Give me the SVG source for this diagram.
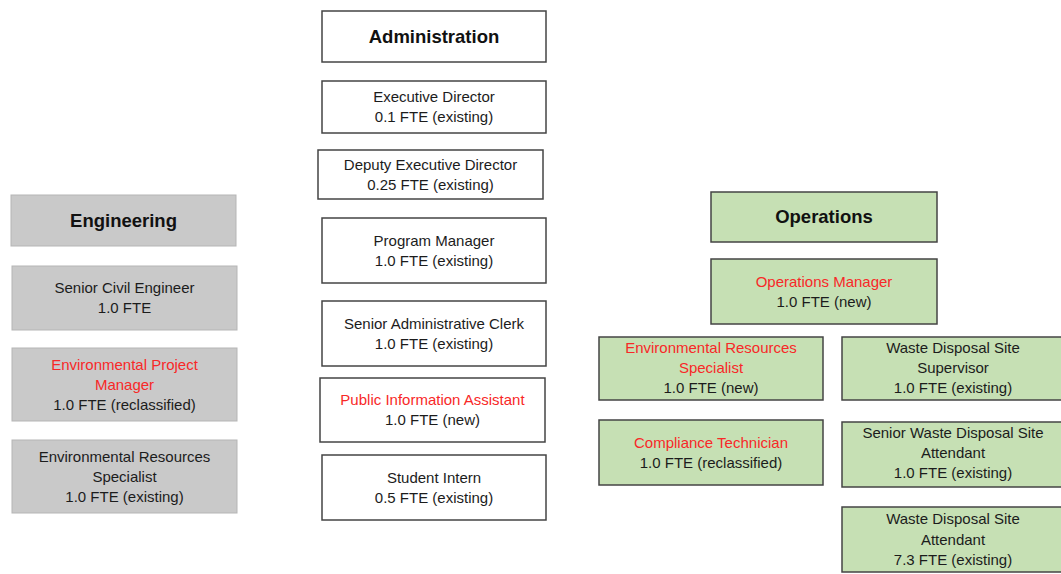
<svg xmlns="http://www.w3.org/2000/svg" width="1061" height="574" viewBox="0 0 1061 574">
<style>
text{font-family:"Liberation Sans",Arial,sans-serif;font-size:15px;fill:#1c1c1c;text-anchor:middle}
.h{font-size:18.5px;font-weight:bold;fill:#111}
.r{fill:#f82828}
.eng{fill:#c9c9c9;stroke:#b5b5b5;stroke-width:1}
.adm{fill:#fff;stroke:#444;stroke-width:1.5}
.ops{fill:#c6e0b4;stroke:#444;stroke-width:1.5}
</style>
<rect width="1061" height="574" fill="#fff"/>
<g id="connectors"/>
<g id="engineering">
<rect class="eng" x="11" y="195" width="225" height="51"/>
<text class="h" x="123.5" y="227">Engineering</text>
</g>
<g id="senior-civil-engineer">
<rect class="eng" x="12" y="266" width="225" height="64"/>
<text x="124.5" y="293">Senior Civil Engineer</text>
<text x="124.5" y="313">1.0 FTE</text>
</g>
<g id="environmental-project-manager">
<rect class="eng" x="12" y="348" width="225" height="73"/>
<text class="r" x="124.5" y="370">Environmental Project</text>
<text class="r" x="124.5" y="390">Manager</text>
<text x="124.5" y="410">1.0 FTE (reclassified)</text>
</g>
<g id="eng-environmental-resources-specialist">
<rect class="eng" x="12" y="440" width="225" height="73"/>
<text x="124.5" y="461.5">Environmental Resources</text>
<text x="124.5" y="481.5">Specialist</text>
<text x="124.5" y="501.5">1.0 FTE (existing)</text>
</g>
<g id="administration">
<rect class="adm" x="322" y="11" width="224" height="51"/>
<text class="h" x="434" y="42.5">Administration</text>
</g>
<g id="executive-director">
<rect class="adm" x="322" y="81" width="224" height="52"/>
<text x="434" y="102">Executive Director</text>
<text x="434" y="122">0.1 FTE (existing)</text>
</g>
<g id="deputy-executive-director">
<rect class="adm" x="318" y="150" width="225" height="49"/>
<text x="430.5" y="170">Deputy Executive Director</text>
<text x="430.5" y="190">0.25 FTE (existing)</text>
</g>
<g id="program-manager">
<rect class="adm" x="322" y="218" width="224" height="65"/>
<text x="434" y="245.5">Program Manager</text>
<text x="434" y="265.5">1.0 FTE (existing)</text>
</g>
<g id="senior-administrative-clerk">
<rect class="adm" x="322" y="301" width="224" height="65"/>
<text x="434" y="328.5">Senior Administrative Clerk</text>
<text x="434" y="348.5">1.0 FTE (existing)</text>
</g>
<g id="public-information-assistant">
<rect class="adm" x="320" y="378" width="225" height="64"/>
<text class="r" x="432.5" y="405">Public Information Assistant</text>
<text x="432.5" y="425">1.0 FTE (new)</text>
</g>
<g id="student-intern">
<rect class="adm" x="322" y="455" width="224" height="65"/>
<text x="434" y="482.5">Student Intern</text>
<text x="434" y="502.5">0.5 FTE (existing)</text>
</g>
<g id="operations">
<rect class="ops" x="711" y="192" width="226" height="50"/>
<text class="h" x="824" y="223">Operations</text>
</g>
<g id="operations-manager">
<rect class="ops" x="711" y="259" width="226" height="65"/>
<text class="r" x="824" y="287">Operations Manager</text>
<text x="824" y="307">1.0 FTE (new)</text>
</g>
<g id="ops-environmental-resources-specialist">
<rect class="ops" x="599" y="337" width="224" height="63"/>
<text class="r" x="711" y="353">Environmental Resources</text>
<text class="r" x="711" y="373">Specialist</text>
<text x="711" y="393">1.0 FTE (new)</text>
</g>
<g id="waste-disposal-site-supervisor">
<rect class="ops" x="842" y="337" width="222" height="63"/>
<text x="953" y="353">Waste Disposal Site</text>
<text x="953" y="373">Supervisor</text>
<text x="953" y="393">1.0 FTE (existing)</text>
</g>
<g id="compliance-technician">
<rect class="ops" x="599" y="420" width="224" height="65"/>
<text class="r" x="711" y="447.5">Compliance Technician</text>
<text x="711" y="467.5">1.0 FTE (reclassified)</text>
</g>
<g id="senior-waste-disposal-site-attendant">
<rect class="ops" x="842" y="422" width="222" height="65"/>
<text x="953" y="438">Senior Waste Disposal Site</text>
<text x="953" y="458">Attendant</text>
<text x="953" y="478">1.0 FTE (existing)</text>
</g>
<g id="waste-disposal-site-attendant">
<rect class="ops" x="842" y="507" width="222" height="65"/>
<text x="953" y="524">Waste Disposal Site</text>
<text x="953" y="545">Attendant</text>
<text x="953" y="565">7.3 FTE (existing)</text>
</g>
</svg>
